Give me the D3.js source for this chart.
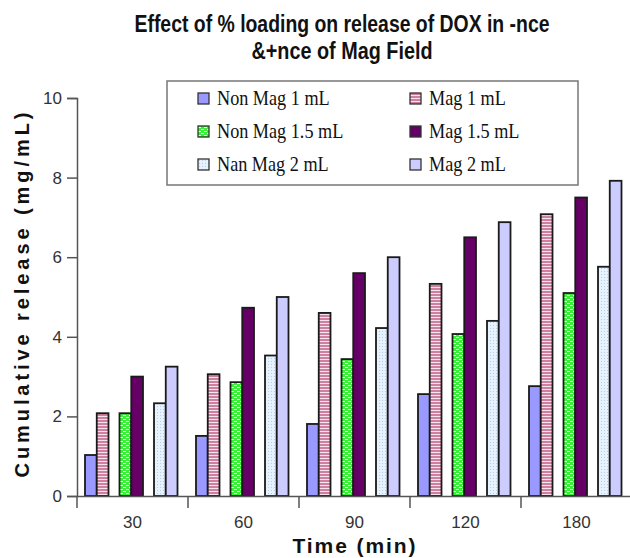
<!DOCTYPE html>
<html>
<head>
<meta charset="utf-8">
<script src="https://cdn.jsdelivr.net/npm/d3@7"></script>
<style>
  html, body { margin: 0; padding: 0; background: #fff; }
  svg { display: block; }
</style>
</head>
<body>
<svg id="chart" width="630" height="558"></svg>
<script>
// ---- data ----
const categories = ["30", "60", "90", "120", "180"];
const seriesNames = ["Non Mag 1 mL", "Mag 1 mL", "Non Mag 1.5 mL", "Mag 1.5 mL", "Nan Mag 2 mL", "Mag 2 mL"];
const nonMag1   = [1.03, 1.51, 1.81, 2.56, 2.76];
const mag1      = [2.08, 3.06, 4.60, 5.33, 7.08];
const nonMag15  = [2.08, 2.86, 3.44, 4.07, 5.10];
const mag15     = [3.00, 4.73, 5.60, 6.50, 7.50];
const nonMag2   = [2.33, 3.53, 4.22, 4.40, 5.76];
const mag2      = [3.25, 5.00, 6.00, 6.88, 7.92];
const yTicks = [0, 2, 4, 6, 8, 10];
const titleLines = ["Effect of % loading on release of DOX in -nce", "&+nce of Mag Field"];
const yLabel = "Cumulative release (mg/mL)";
const xLabel = "Time (min)";

const seriesValues = [nonMag1, mag1, nonMag15, mag15, nonMag2, mag2];
const fills = ["#9999ff", "url(#pPink)", "url(#pGreen)", "#660066", "url(#pLight)", "#ccccff"];

// ---- layout ----
const svg = d3.select("#chart");
const x0 = 77, x1 = 632, yTop = 98, yBot = 496;

const x = d3.scaleBand().domain(categories).range([x0, x1]).padding(0);
const y = d3.scaleLinear().domain([0, 10]).range([yBot, yTop]);
const bw = x.bandwidth();
const pairScale = d3.scaleBand().domain([0, 1, 2])
  .range([bw * 8 / 111, bw * 100.5 / 111]).paddingInner(0.319).paddingOuter(0);
const barW = pairScale.bandwidth() / 2;

// ---- patterns ----
const defs = svg.append("defs");
const pk = defs.append("pattern").attr("id", "pPink").attr("patternUnits", "userSpaceOnUse")
  .attr("width", 4).attr("height", 3);
pk.append("rect").attr("width", 4).attr("height", 3).attr("fill", "#cf7f9f");
pk.append("rect").attr("y", 2).attr("width", 4).attr("height", 1).attr("fill", "#f6e4ec");

const gr = defs.append("pattern").attr("id", "pGreen").attr("patternUnits", "userSpaceOnUse")
  .attr("width", 6).attr("height", 4);
gr.append("rect").attr("width", 6).attr("height", 4).attr("fill", "#3aee3a");
gr.append("rect").attr("x", 0).attr("y", 1).attr("width", 3).attr("height", 1).attr("fill", "#f2fff2");
gr.append("rect").attr("x", 3).attr("y", 3).attr("width", 3).attr("height", 1).attr("fill", "#f2fff2");

const lb = defs.append("pattern").attr("id", "pLight").attr("patternUnits", "userSpaceOnUse")
  .attr("width", 3).attr("height", 3);
lb.append("rect").attr("width", 3).attr("height", 3).attr("fill", "#e6f3ff");
lb.append("rect").attr("x", 1).attr("y", 1).attr("width", 1).attr("height", 1).attr("fill", "#b8cce6");

// ---- title ----
svg.append("text").attr("x", 342).attr("y", 32).attr("text-anchor", "middle")
  .attr("font-family", "Liberation Sans, Arial, sans-serif").attr("font-weight", "bold")
  .attr("font-size", 23).attr("fill", "#111")
  .attr("textLength", 415).attr("lengthAdjust", "spacingAndGlyphs")
  .text(titleLines[0]);
svg.append("text").attr("x", 342).attr("y", 59).attr("text-anchor", "middle")
  .attr("font-family", "Liberation Sans, Arial, sans-serif").attr("font-weight", "bold")
  .attr("font-size", 23).attr("fill", "#111")
  .attr("textLength", 181).attr("lengthAdjust", "spacingAndGlyphs")
  .text(titleLines[1]);

// ---- bars ----
const gBars = svg.append("g");
categories.forEach((c, ci) => {
  seriesValues.forEach((vals, si) => {
    const pair = Math.floor(si / 2), within = si % 2;
    const bx = x(c) + pairScale(pair) + within * barW;
    gBars.append("rect")
      .attr("x", bx).attr("y", y(vals[ci]))
      .attr("width", barW).attr("height", y(0) - y(vals[ci]))
      .attr("fill", fills[si]).attr("stroke", "#1a1a1a").attr("stroke-width", 1.8);
  });
});

// ---- axes ----
const yAxis = svg.append("g").attr("transform", `translate(${x0},0)`)
  .call(d3.axisLeft(y).tickValues(yTicks).tickSize(10).tickPadding(5).tickFormat(d3.format("d")));
yAxis.select(".domain").attr("stroke", "#555").attr("stroke-width", 1.5);
yAxis.selectAll(".tick line").attr("stroke", "#555").attr("stroke-width", 1.5);
yAxis.selectAll(".tick text").attr("font-family", "Liberation Sans, Arial, sans-serif")
  .attr("font-size", 17).attr("fill", "#333");

const xAxis = svg.append("g").attr("transform", `translate(0,${yBot})`)
  .call(d3.axisBottom(x).tickSize(0).tickPadding(20));
xAxis.select(".domain").attr("stroke", "#555").attr("stroke-width", 1.5);
xAxis.selectAll(".tick text").attr("font-family", "Liberation Sans, Arial, sans-serif")
  .attr("font-size", 17).attr("fill", "#333");
// category separators below the axis
const bounds = categories.map(c => x(c));
xAxis.selectAll("line.sep").data(bounds).enter().append("line").attr("class", "sep")
  .attr("x1", d => d).attr("x2", d => d).attr("y1", 0).attr("y2", 12)
  .attr("stroke", "#555").attr("stroke-width", 1.5);

// ---- axis titles ----
svg.append("text").attr("transform", "translate(29,295) rotate(-90)")
  .attr("text-anchor", "middle").attr("font-family", "Liberation Sans, Arial, sans-serif")
  .attr("font-weight", "bold").attr("font-size", 20).attr("fill", "#111")
  .attr("textLength", 365).attr("lengthAdjust", "spacing")
  .text(yLabel);
svg.append("text").attr("x", 354).attr("y", 553).attr("text-anchor", "middle")
  .attr("font-family", "Liberation Sans, Arial, sans-serif")
  .attr("font-weight", "bold").attr("font-size", 21).attr("fill", "#111")
  .attr("textLength", 123).attr("lengthAdjust", "spacing")
  .text(xLabel);

// ---- legend ----
const legend = svg.append("g");
legend.append("rect").attr("x", 167).attr("y", 81).attr("width", 411).attr("height", 104)
  .attr("fill", "#fff").attr("stroke", "#777").attr("stroke-width", 1.5);
const colX = [198, 410], rowY = [105, 138, 171];
seriesNames.forEach((name, i) => {
  const col = i % 2, row = Math.floor(i / 2);
  const g = legend.append("g").attr("transform", `translate(${colX[col]},${rowY[row]})`);
  g.append("rect").attr("x", 0).attr("y", -12).attr("width", 11).attr("height", 11)
    .attr("fill", fills[i]).attr("stroke", "#333").attr("stroke-width", 1.3);
  g.append("text").attr("transform", "translate(19,0) scale(0.91,1)")
    .attr("font-family", "Liberation Serif, Times New Roman, serif")
    .attr("font-size", 20).attr("fill", "#111").text(name);
});
</script>
</body>
</html>
